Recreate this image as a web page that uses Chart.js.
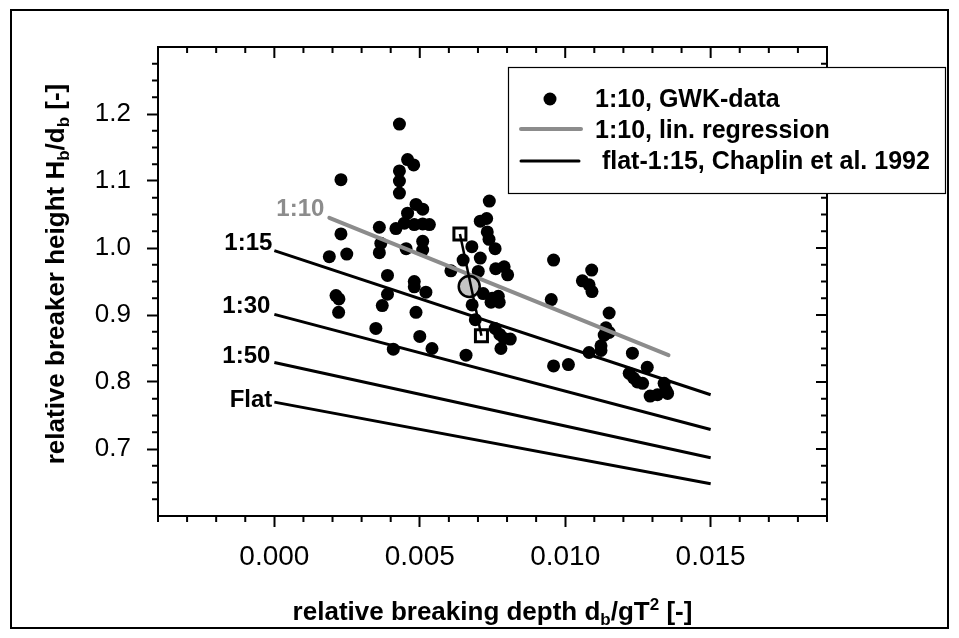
<!DOCTYPE html>
<html>
<head>
<meta charset="utf-8">
<script src="https://cdn.jsdelivr.net/npm/chart.js@4.4.0/dist/chart.umd.min.js"></script>
<style>
  html, body { margin: 0; padding: 0; background: #fff; }
  canvas { display: block; }
</style>
</head>
<body>
<canvas id="graphiqueDeferlement" width="959" height="638"></canvas>
<script>
// GWK data (slope 1:10)
var gwkX = [0.00229, 0.00229, 0.00189, 0.00249, 0.00212, 0.00222, 0.00221,
            0.00361, 0.00366, 0.00361, 0.00389, 0.00389, 0.00371, 0.00349, 0.00409,
            0.00430, 0.00458, 0.00479, 0.00430, 0.00430, 0.00430, 0.00487, 0.00510,
            0.00458, 0.00418, 0.00447, 0.00481, 0.00510, 0.00533, 0.00510, 0.00510,
            0.00453, 0.00481, 0.00481, 0.00521, 0.00487, 0.00500, 0.00542,
            0.00739, 0.00708, 0.00730, 0.00732, 0.00738, 0.00759, 0.00679, 0.00649,
            0.00708, 0.00607, 0.00701, 0.00761, 0.00790, 0.00802, 0.00718, 0.00749,
            0.00770, 0.00773, 0.00745, 0.00680, 0.00691, 0.00759, 0.00775, 0.00811,
            0.00779, 0.00659, 0.00790,
            0.00960, 0.00952, 0.01091, 0.01059, 0.01082, 0.01092, 0.01151, 0.01140,
            0.01151, 0.01134, 0.01123, 0.01123, 0.01082, 0.00960, 0.01011,
            0.01231, 0.01282, 0.01220, 0.01235, 0.01248, 0.01266, 0.01340, 0.01346,
            0.01352, 0.01317, 0.01292];
var gwkY = [1.102, 1.021, 0.987, 0.991, 0.929, 0.924, 0.904,
            1.031, 1.007, 0.993, 0.959, 0.931, 0.914, 0.880, 0.849,
            1.185, 1.132, 1.124, 1.115, 1.100, 1.082, 1.065, 1.058,
            1.052, 1.029, 1.037, 1.035, 1.036, 1.035, 1.010, 0.997,
            0.999, 0.950, 0.942, 0.934, 0.904, 0.868, 0.850,
            1.070, 1.040, 1.044, 1.024, 1.013, 0.999, 1.002, 0.982,
            0.985, 0.966, 0.965, 0.969, 0.972, 0.960, 0.932, 0.925,
            0.928, 0.919, 0.919, 0.915, 0.893, 0.880, 0.871, 0.864,
            0.850, 0.840, 0.865,
            0.982, 0.923, 0.967, 0.951, 0.945, 0.935, 0.903, 0.881,
            0.874, 0.870, 0.854, 0.847, 0.844, 0.824, 0.826,
            0.843, 0.822, 0.813, 0.806, 0.800, 0.798, 0.798, 0.788,
            0.783, 0.781, 0.779];

// 1:10 linear regression
var regX = [0.00189, 0.01355];
var regY = [1.045, 0.840];

// Chaplin et al. 1992
var chaplinX = [0.000, 0.015];
var pente15 = [0.996, 0.781];
var pente30 = [0.901, 0.729];
var pente50 = [0.829, 0.687];
var penteFlat = [0.770, 0.648];

// mean value and range
var moyenneX = [0.0067];
var moyenneY = [0.9425];
var etendueX = [0.00638, 0.00712];
var etendueY = [1.021, 0.869];

var xTicks = [0.000, 0.005, 0.010, 0.015];
var yTicks = [0.7, 0.8, 0.9, 1.0, 1.1, 1.2];

var gris = '#8c8c8c';
var police = '"Liberation Sans", Arial, sans-serif';

function points(xs, ys) {
    return xs.map(function (x, i) { return { x: x, y: ys[i] }; });
}

function ligne(xs, ys, couleur, largeur) {
    return {
        data: points(xs, ys),
        showLine: true,
        borderColor: couleur,
        borderWidth: largeur,
        pointRadius: 0,
        fill: false
    };
}

// text with sub/superscripts, parts = [{t, s, dy}]
function texteRiche(ctx, parts, x, y) {
    var total = 0;
    parts.forEach(function (p) {
        ctx.font = 'bold ' + p.s + 'px ' + police;
        p.w = ctx.measureText(p.t).width;
        total += p.w;
    });
    var cx = x - total / 2;
    ctx.textAlign = 'left';
    ctx.textBaseline = 'alphabetic';
    parts.forEach(function (p) {
        ctx.font = 'bold ' + p.s + 'px ' + police;
        ctx.fillText(p.t, cx, y + (p.dy || 0));
        cx += p.w;
    });
}

var pluginDecor = {
    id: 'decor',
    afterDraw: function (chart) {
        var ctx = chart.ctx;
        var a = chart.chartArea;
        var sx = chart.scales.x, sy = chart.scales.y;
        ctx.save();
        ctx.strokeStyle = '#000';
        ctx.fillStyle = '#000';

        // outer frame
        ctx.lineWidth = 2;
        ctx.strokeRect(11, 10, 937, 618);

        // top and right axis lines
        ctx.beginPath();
        ctx.moveTo(a.left, a.top); ctx.lineTo(a.right, a.top); ctx.lineTo(a.right, a.bottom);
        ctx.stroke();

        // minor and mirrored ticks
        ctx.lineWidth = 2;
        ctx.beginPath();
        for (var i = -4; i <= 19; i++) {
            var px = sx.getPixelForValue(i / 1000);
            var majeur = (i % 5 === 0);
            var l = majeur ? 11 : 6;
            if (!majeur) { ctx.moveTo(px, a.bottom); ctx.lineTo(px, a.bottom + l); }
            ctx.moveTo(px, a.top); ctx.lineTo(px, a.top + l);
        }
        for (var j = 0; j <= 28; j++) {
            var v = 0.6 + j * 0.025;
            var py = sy.getPixelForValue(v);
            var maj = (j % 4 === 0);
            var lg = maj ? 11 : 6;
            if (!maj) { ctx.moveTo(a.left, py); ctx.lineTo(a.left - lg, py); }
            ctx.moveTo(a.right, py); ctx.lineTo(a.right - lg, py);
        }
        ctx.stroke();

        // axis titles
        texteRiche(ctx, [
            { t: 'relative breaking depth d', s: 26 },
            { t: 'b', s: 17, dy: 5 },
            { t: '/gT', s: 26 },
            { t: '2', s: 17, dy: -10 },
            { t: ' [-]', s: 26 }
        ], (a.left + a.right) / 2, 620);

        ctx.save();
        ctx.translate(64, 274);
        ctx.rotate(-Math.PI / 2);
        texteRiche(ctx, [
            { t: 'relative breaker height H', s: 26 },
            { t: 'b', s: 17, dy: 5 },
            { t: '/d', s: 26 },
            { t: 'b', s: 17, dy: 5 },
            { t: ' [-]', s: 26 }
        ], 0, 0);
        ctx.restore();

        // labels at the start of the lines
        ctx.font = 'bold 24px ' + police;
        ctx.textAlign = 'right';
        ctx.textBaseline = 'alphabetic';
        var etiquettes = [
            { t: '1:10', x: regX[0], y: regY[0], c: gris, dx: -5, dy: -2 },
            { t: '1:15', x: chaplinX[0], y: pente15[0], c: '#000', dx: -2, dy: -1 },
            { t: '1:30', x: chaplinX[0], y: pente30[0], c: '#000', dx: -4, dy: -1 },
            { t: '1:50', x: chaplinX[0], y: pente50[0], c: '#000', dx: -4, dy: 0 },
            { t: 'Flat', x: chaplinX[0], y: penteFlat[0], c: '#000', dx: -2, dy: 5 }
        ];
        etiquettes.forEach(function (e) {
            ctx.fillStyle = e.c;
            ctx.fillText(e.t, sx.getPixelForValue(e.x) + e.dx, sy.getPixelForValue(e.y) + e.dy);
        });

        // legend
        ctx.fillStyle = '#fff';
        ctx.fillRect(508, 67, 437, 126);
        ctx.lineWidth = 1.2;
        ctx.strokeStyle = '#000';
        ctx.strokeRect(508.5, 67.5, 437, 126);
        ctx.fillStyle = '#000';
        ctx.beginPath();
        ctx.arc(550, 99, 6.5, 0, Math.PI * 2);
        ctx.fill();
        ctx.lineCap = 'round';
        ctx.strokeStyle = gris;
        ctx.lineWidth = 4;
        ctx.beginPath(); ctx.moveTo(521, 129); ctx.lineTo(581, 129); ctx.stroke();
        ctx.strokeStyle = '#000';
        ctx.lineWidth = 3;
        ctx.beginPath(); ctx.moveTo(521, 161); ctx.lineTo(579, 161); ctx.stroke();
        ctx.font = 'bold 25px ' + police;
        ctx.textAlign = 'left';
        ctx.fillText('1:10, GWK-data', 595, 107);
        ctx.fillText('1:10, lin. regression', 595, 138);
        ctx.fillText(' flat-1:15, Chaplin et al. 1992', 595, 169);

        ctx.restore();
    }
};

var ctxDeferlement = document.getElementById('graphiqueDeferlement').getContext('2d');
var graphiqueDeferlement = new Chart(ctxDeferlement, {
    type: 'scatter',
    data: {
        datasets: [
            Object.assign(ligne(etendueX, etendueY, '#000', 2.5), { label: 'range' }),
            {
                label: 'range ends',
                data: points(etendueX, etendueY),
                pointStyle: 'rect',
                pointRadius: 8.5,
                pointBackgroundColor: '#fff',
                pointBorderColor: '#000',
                pointBorderWidth: 3
            },
            {
                label: 'mean',
                data: points(moyenneX, moyenneY),
                pointRadius: 10.5,
                pointBackgroundColor: '#c4c4c4',
                pointBorderColor: '#000',
                pointBorderWidth: 2.5
            },
            Object.assign(ligne(regX, regY, gris, 4), { label: '1:10, lin. regression', borderCapStyle: 'round' }),
            Object.assign(ligne(chaplinX, pente15, '#000', 3), { label: '1:15' }),
            Object.assign(ligne(chaplinX, pente30, '#000', 3), { label: '1:30' }),
            Object.assign(ligne(chaplinX, pente50, '#000', 3), { label: '1:50' }),
            Object.assign(ligne(chaplinX, penteFlat, '#000', 3), { label: 'Flat' }),
            {
                label: '1:10, GWK-data',
                data: points(gwkX, gwkY),
                pointRadius: 6.5,
                pointBackgroundColor: '#000',
                pointBorderWidth: 0
            }
        ]
    },
    options: {
        responsive: false,
        devicePixelRatio: 1,
        animation: false,
        events: [],
        layout: { padding: { top: 47, right: 132, bottom: 0, left: 0 } },
        plugins: {
            legend: { display: false },
            tooltip: { enabled: false }
        },
        scales: {
            x: {
                type: 'linear',
                position: 'bottom',
                min: -0.004,
                max: 0.019,
                afterBuildTicks: function (axis) {
                    axis.ticks = xTicks.map(function (v) { return { value: v }; });
                },
                afterFit: function (scale) { scale.height = 122; },
                ticks: {
                    callback: function (v) { return Number(v).toFixed(3); },
                    font: { family: police, size: 28 },
                    color: '#000',
                    padding: 13,
                    maxRotation: 0,
                    autoSkip: false
                },
                grid: { drawOnChartArea: false, drawTicks: true, tickLength: 11, tickWidth: 2, tickColor: '#000' },
                border: { display: true, width: 2, color: '#000' }
            },
            y: {
                type: 'linear',
                min: 0.6,
                max: 1.3,
                afterBuildTicks: function (axis) {
                    axis.ticks = yTicks.map(function (v) { return { value: v }; });
                },
                afterFit: function (scale) { scale.width = 158; },
                ticks: {
                    callback: function (v) { return Number(v).toFixed(1); },
                    font: { family: police, size: 26 },
                    color: '#000',
                    padding: 16,
                    autoSkip: false
                },
                grid: { drawOnChartArea: false, drawTicks: true, tickLength: 11, tickWidth: 2, tickColor: '#000' },
                border: { display: true, width: 2, color: '#000' }
            }
        }
    },
    plugins: [pluginDecor]
});
</script>
</body>
</html>
